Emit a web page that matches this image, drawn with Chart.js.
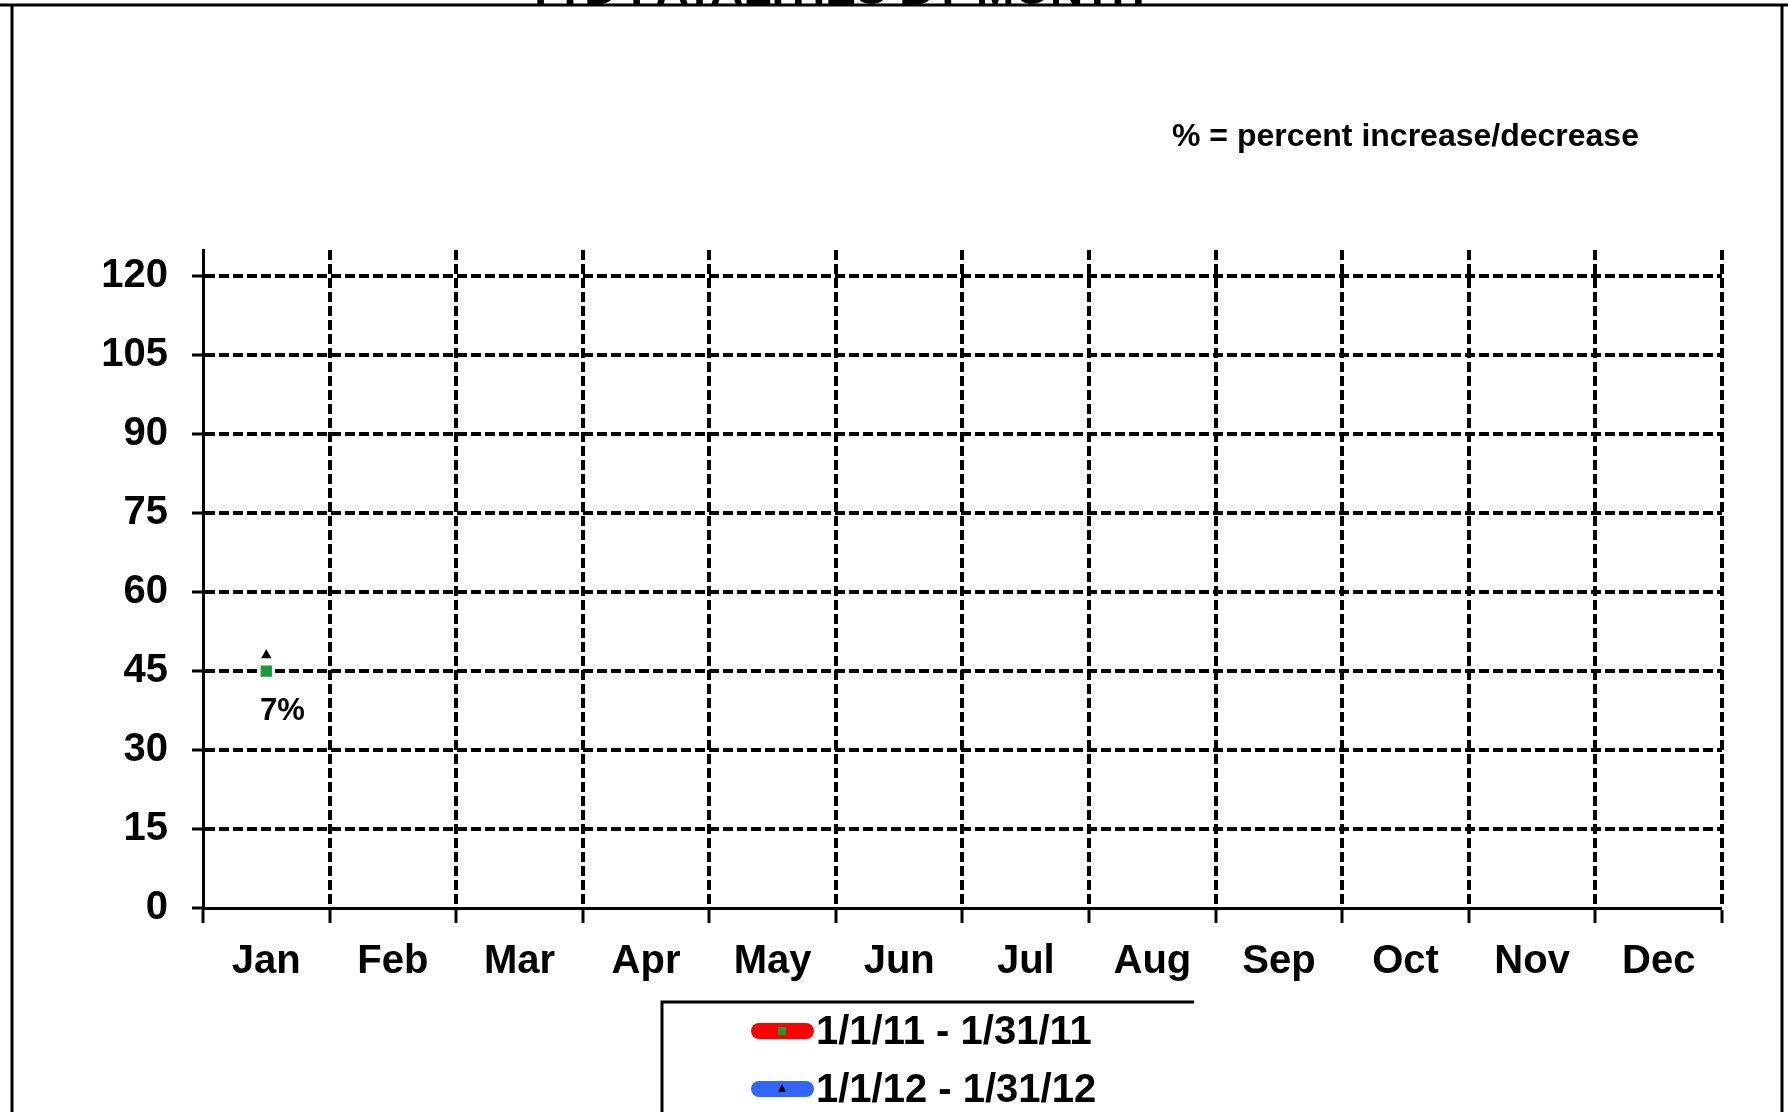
<!DOCTYPE html>
<html>
<head>
<meta charset="utf-8">
<title>YTD Fatalities by Month</title>
<script src="https://cdn.jsdelivr.net/npm/chart.js@4.4.1/dist/chart.umd.min.js"></script>
<style>
  body { margin: 0; background: #fff; }
  canvas { display: block; }
</style>
</head>
<body>
<canvas id="fatalities" width="1788" height="1112"></canvas>
<script>
var months = ["Jan", "Feb", "Mar", "Apr", "May", "Jun", "Jul", "Aug", "Sep", "Oct", "Nov", "Dec"];
var yTicks = [0, 15, 30, 45, 60, 75, 90, 105, 120];
var prevYear = [45, null, null, null, null, null, null, null, null, null, null, null];
var thisYear = [48, null, null, null, null, null, null, null, null, null, null, null];
var seriesLabels = ["1/1/11 - 1/31/11", "1/1/12 - 1/31/12"];
var chartTitle = "YTD FATALITIES BY MONTH";
var noteText = "% = percent increase/decrease";

var FONT = "'Liberation Sans', Arial, sans-serif";

// outer frame, cut-off title and the note in the top right
var framePlugin = {
  id: "frame",
  afterDraw: function (chart) {
    var ctx = chart.ctx;
    ctx.save();
    ctx.fillStyle = "#000";
    ctx.textAlign = "center";
    ctx.textBaseline = "alphabetic";
    ctx.font = "bold 46px " + FONT;
    ctx.fillText(chartTitle, 835, 4);

    ctx.strokeStyle = "#000";
    ctx.lineWidth = 3;
    ctx.beginPath();
    ctx.moveTo(0, 5);
    ctx.lineTo(1788, 5);
    ctx.moveTo(12, 5);
    ctx.lineTo(12, 1112);
    ctx.moveTo(1782, 5);
    ctx.lineTo(1782, 1112);
    ctx.stroke();

    ctx.textAlign = "left";
    ctx.textBaseline = "middle";
    ctx.font = "bold 32px " + FONT;
    ctx.fillText(noteText, 1172, 137);
    ctx.restore();
  },
};

// percent change between the two years, under each month's point
var percentPlugin = {
  id: "percent",
  afterDatasetsDraw: function (chart) {
    var ctx = chart.ctx;
    var meta = chart.getDatasetMeta(0);
    ctx.save();
    ctx.fillStyle = "#000";
    ctx.font = "bold 31px " + FONT;
    ctx.textAlign = "center";
    ctx.textBaseline = "middle";
    for (var i = 0; i < months.length; i++) {
      var a = prevYear[i];
      var b = thisYear[i];
      if (a == null || b == null || a === 0) continue;
      var pct = Math.round(((b - a) / a) * 100);
      var pt = meta.data[i];
      ctx.fillText(Math.abs(pct) + "%", pt.x + 16, pt.y + 40);
    }
    ctx.restore();
  },
};

// boxed legend at the bottom with a thick line swatch per series
var legendPlugin = {
  id: "boxLegend",
  afterDraw: function (chart) {
    var ctx = chart.ctx;
    ctx.save();
    ctx.strokeStyle = "#000";
    ctx.lineWidth = 3;
    ctx.beginPath();
    ctx.moveTo(662, 1112);
    ctx.lineTo(662, 1002);
    ctx.lineTo(1194, 1002);
    ctx.stroke();

    chart.data.datasets.forEach(function (ds, i) {
      var y = 1031 + i * 58;
      ctx.strokeStyle = ds.borderColor;
      ctx.lineWidth = 16;
      ctx.lineCap = "round";
      ctx.beginPath();
      ctx.moveTo(759, y);
      ctx.lineTo(806, y);
      ctx.stroke();

      ctx.fillStyle = ds.pointBackgroundColor;
      if (ds.pointStyle === "triangle") {
        ctx.beginPath();
        ctx.moveTo(782, y - 5);
        ctx.lineTo(786, y + 3);
        ctx.lineTo(778, y + 3);
        ctx.closePath();
        ctx.fill();
      } else {
        ctx.fillRect(778, y - 4, 8, 8);
      }

      ctx.fillStyle = "#000";
      ctx.font = "bold 40px " + FONT;
      ctx.textAlign = "left";
      ctx.textBaseline = "middle";
      ctx.fillText(ds.label, 816, y + 2);
    });
    ctx.restore();
  },
};

// the first grid line sits on the axis line, so leave it out
function gridWidth(context) {
  return context.index === 0 ? 0 : 4;
}

function makeChart() {
  var config = {
    type: "line",
    data: {
      labels: months,
      datasets: [
        {
          label: seriesLabels[0],
          data: prevYear,
          borderColor: "#ff0000",
          backgroundColor: "#ff0000",
          borderWidth: 4,
          pointStyle: "rect",
          pointRadius: 8,
          pointBackgroundColor: "#20993a",
          pointBorderColor: "#20993a",
          pointBorderWidth: 0,
        },
        {
          label: seriesLabels[1],
          data: thisYear,
          borderColor: "#3366ff",
          backgroundColor: "#3366ff",
          borderWidth: 4,
          pointStyle: "triangle",
          pointRadius: 6,
          pointBackgroundColor: "#000000",
          pointBorderColor: "#000000",
          pointBorderWidth: 0,
        },
      ],
    },
    options: {
      responsive: false,
      animation: false,
      devicePixelRatio: 1,
      layout: { padding: { top: 250, right: 66, left: 0, bottom: 0 } },
      plugins: {
        legend: { display: false },
        tooltip: { enabled: false },
        title: { display: false },
      },
      scales: {
        x: {
          type: "category",
          offset: true,
          grid: {
            offset: true,
            color: "#000",
            lineWidth: gridWidth,
            tickLength: 15,
            tickWidth: 3,
          },
          border: { display: true, color: "#000", width: 3, dash: [10, 4] },
          ticks: {
            color: "#000",
            font: { family: FONT, size: 40, weight: "bold" },
            padding: 15,
            autoSkip: false,
            maxRotation: 0,
          },
          afterFit: function (scale) {
            scale.height = 204;
          },
        },
        y: {
          min: 0,
          max: 125,
          grid: {
            color: "#000",
            lineWidth: gridWidth,
            tickLength: 11,
            tickWidth: 3,
          },
          border: { display: true, color: "#000", width: 3, dash: [10, 4] },
          ticks: {
            color: "#000",
            font: { family: FONT, size: 40, weight: "bold" },
            padding: 24,
          },
          afterBuildTicks: function (scale) {
            scale.ticks = yTicks.map(function (v) {
              return { value: v };
            });
          },
          afterFit: function (scale) {
            scale.width = 203;
          },
        },
      },
    },
    plugins: [framePlugin, percentPlugin, legendPlugin],
  };

  var ctx = document.getElementById("fatalities").getContext("2d");
  new Chart(ctx, config);
}

makeChart();
</script>
</body>
</html>
